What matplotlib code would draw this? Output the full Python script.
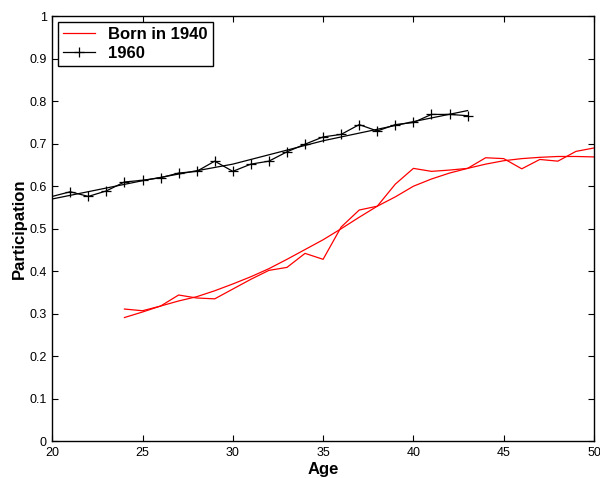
import matplotlib
matplotlib.use("Agg")
import matplotlib.pyplot as plt

plt.rcParams["font.family"] = ["Liberation Sans", "DejaVu Sans"]

# cohort born in 1940: observed participation and smooth fit
ages_1940 = list(range(24, 51))
part_1940 = [0.311, 0.307, 0.318, 0.344, 0.337, 0.335, 0.358, 0.381, 0.402, 0.409,
             0.442, 0.428, 0.504, 0.544, 0.553, 0.605, 0.642, 0.635, 0.638, 0.642,
             0.667, 0.665, 0.641, 0.663, 0.659, 0.682, 0.690]
fit_1940 = [0.291, 0.304, 0.318, 0.330, 0.340, 0.354, 0.370, 0.387, 0.406, 0.428,
            0.451, 0.474, 0.500, 0.527, 0.553, 0.575, 0.600, 0.617, 0.631, 0.642,
            0.652, 0.660, 0.665, 0.668, 0.670, 0.670, 0.669]

# cohort born in 1960
ages_1960 = list(range(20, 44))
part_1960 = [0.576, 0.587, 0.576, 0.589, 0.610, 0.614, 0.620, 0.631, 0.635, 0.659,
             0.635, 0.652, 0.659, 0.681, 0.699, 0.716, 0.722, 0.745, 0.730, 0.745,
             0.750, 0.769, 0.769, 0.766]
fit_ages_1960 = [20, 25, 30, 35, 40, 43]
fit_1960 = [0.570, 0.613, 0.652, 0.707, 0.752, 0.778]

fig = plt.figure(figsize=(6.0, 4.78), dpi=100)
ax = fig.add_axes([0.087, 0.077, 0.903, 0.889])

ax.plot(ages_1940, part_1940, "-", color="red", lw=0.9, label="Born in 1940")
ax.plot(ages_1940, fit_1940, "-", color="red", lw=0.9)
ax.plot(ages_1960, part_1960, "-", color="black", lw=0.9, marker="+", ms=6.5, mew=0.9,
        markevery=list(range(1, len(ages_1960))), label="1960")
ax.plot(fit_ages_1960, fit_1960, "-", color="black", lw=0.9)

ax.set_xlim(20, 50); ax.set_ylim(0, 1)
ax.set_xticks(range(20, 51, 5))
ax.set_yticks([i / 10 for i in range(11)])
ax.set_yticklabels(["0", "0.1", "0.2", "0.3", "0.4", "0.5", "0.6", "0.7", "0.8", "0.9", "1"])
ax.tick_params(direction="in", top=True, right=True, labelsize=9, length=4, width=0.8, pad=4)
for s in ax.spines.values():
    s.set_linewidth(1.0)
ax.set_xlabel("Age", fontsize=12, fontweight="bold", labelpad=2)
ax.set_ylabel("Participation", fontsize=12, fontweight="bold", labelpad=2)

leg = ax.legend(loc="upper left", prop={"weight": "bold", "size": 12}, fancybox=False,
                edgecolor="black", framealpha=1, borderaxespad=0.35, handlelength=1.9,
                borderpad=0.3, labelspacing=0.25, handletextpad=0.8)
leg.get_frame().set_linewidth(1.0)

fig.savefig("out.png", dpi=100)
